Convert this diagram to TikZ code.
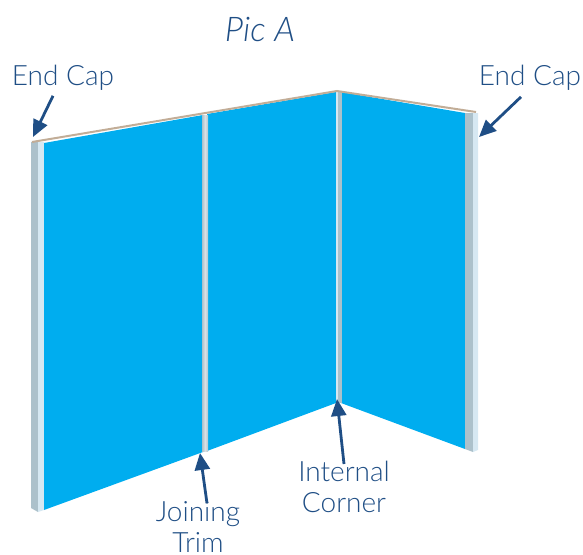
\documentclass[tikz,border=0pt]{standalone}
\usepackage{fontspec}
\setmainfont{Lato Light}[ItalicFont={Lato Light Italic}]
\usetikzlibrary{arrows.meta}
\definecolor{panelblue}{HTML}{00ADEF}
\definecolor{capgrey}{HTML}{ACC1CB}
\definecolor{caplight}{HTML}{D6E8F2}
\definecolor{trimmid}{HTML}{D9E1E4}
\definecolor{trimside}{HTML}{B4C6CE}
\definecolor{toptan}{HTML}{C2AD97}
\definecolor{labelblue}{HTML}{1F4E85}
\tikzset{
  panel/.style={fill=panelblue,draw=none},
  capdark/.style={fill=capgrey,draw=none},
  caplite/.style={fill=caplight,draw=none},
  lbl/.style={text=labelblue,font=\fontsize{28}{31}\selectfont,inner sep=0pt,align=center},
  pointer/.style={draw=labelblue,line width=2.8pt,-{Triangle[length=17pt,width=15pt]}}
}
\begin{document}
\begin{tikzpicture}[x=1pt,y=-1pt]
\useasboundingbox (0,0) rectangle (583,554);
% end cap left
\fill[capdark] (31,142) -- (38,142) -- (38,512) -- (31,508) -- cycle;
\fill[caplite] (38,142) -- (44,142) -- (44,510) -- (38,512) -- cycle;
% panels
\fill[panel] (44,143) -- (203,115) -- (203,452) -- (44,510) -- cycle;
\fill[panel] (207,114) -- (336,92) -- (336,403) -- (207,451) -- cycle;
\fill[panel] (341,92) -- (465,113) -- (465,449) -- (341,403) -- cycle;
% joining trim
\shade[left color=capgrey,right color=trimside,middle color=trimmid] (202,115) rectangle (208,451);
% internal corner
\fill[caplite] (335.5,92) rectangle (338,403);
\fill[capdark] (338,92) rectangle (342,403);
% end cap right
\fill[capdark] (465,113) -- (473,113) -- (473,452) -- (465,449) -- cycle;
\fill[caplite] (473,113) -- (478,113) -- (478,450) -- (473,452) -- cycle;
% top edge
\draw[toptan,line width=2pt] (32,142) -- (337,91) -- (476,112);
% labels
\node[lbl,font=\fontsize{34}{31}\selectfont] (pica) at (260,29) {\itshape Pic A};
\node[lbl] (capl) at (63,78) {End Cap};
\node[lbl] (capr) at (530,78) {End Cap};
\node[lbl] (join) at (198,527) {Joining\\Trim};
\node[lbl] (corn) at (344,487) {Internal\\Corner};
\coordinate (tipcapl) at (33,137);
\coordinate (tipcapr) at (479,137);
\coordinate (tipjoin) at (200,453);
\coordinate (tipcorn) at (337,399);
\draw[pointer] ([xshift=-10pt,yshift=-5pt]capl.south) -- (tipcapl);
\draw[pointer] ([xshift=-9pt,yshift=-6pt]capr.south) -- (tipcapr);
\draw[pointer] ([xshift=9pt,yshift=-2pt]join.north) -- (tipjoin);
\draw[pointer] ([yshift=-3pt]corn.north) -- (tipcorn);
\end{tikzpicture}
\end{document}
